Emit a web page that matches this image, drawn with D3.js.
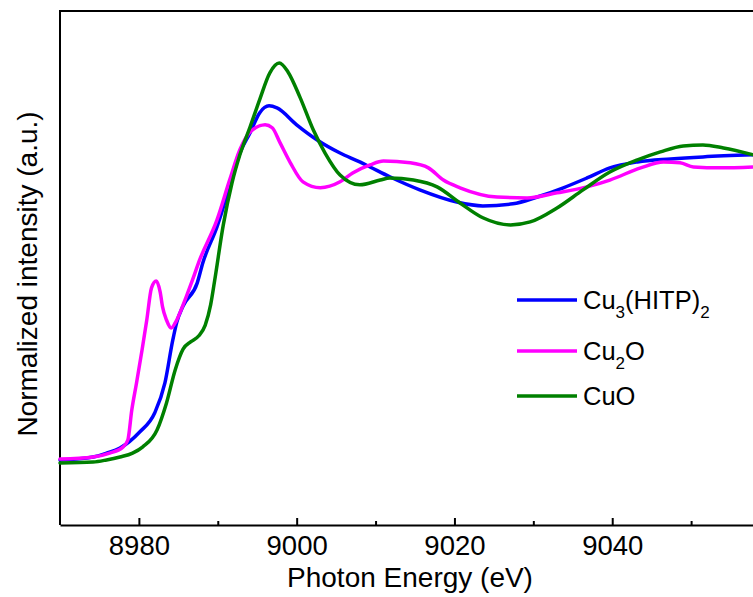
<!DOCTYPE html>
<html lang="en">
<head>
    <meta charset="UTF-8">
    <title>Cu K-edge XANES</title>
    <script src="https://d3js.org/d3.v7.min.js"></script>
    <style>
        body {
            margin: 0;
            background: #fff;
            font-family: "Liberation Sans", Arial, sans-serif;
        }
        svg {
            display: block;
        }
        .frame {
            stroke: #000;
            stroke-width: 2px;
            fill: none;
        }
        .axis path,
        .axis line {
            stroke: #000;
            stroke-width: 2px;
        }
        .axis text {
            font-family: "Liberation Sans", Arial, sans-serif;
            font-size: 27.5px;
            fill: #000;
        }
        .curve {
            fill: none;
            stroke-width: 3.5px;
            stroke-linejoin: round;
            stroke-linecap: round;
        }
        .label {
            font-size: 28px;
            fill: #000;
        }
        .legend text {
            font-size: 25.5px;
            fill: #000;
        }
    </style>
</head>
<body>
    <svg width="753" height="597"></svg>

    <script>
        // Cu3(HITP)2 spectrum (eV, normalized intensity)
        const cu3Energy = [8970, 8974.2, 8975.9, 8977.6, 8980.1, 8982.0, 8983.3, 8984.3, 8984.8, 8985.6,
            8987.4, 8988.1, 8989.9, 8991.5, 8992.8, 8994.1, 8995.3, 8996.5, 8997.5, 9000.0,
            9002.6, 9005.5, 9008.0, 9009.3, 9011.8, 9015.6, 9020.3, 9023.6, 9027.4, 9030.5,
            9033.8, 9036.8, 9039.7, 9043.2, 9047.4, 9051.5, 9057.9];
        const cu3Intensity = [0.007, 0.017, 0.030, 0.047, 0.101, 0.165, 0.266, 0.411, 0.470, 0.525,
            0.603, 0.670, 0.791, 0.926, 1.040, 1.108, 1.175, 1.199, 1.192, 1.135,
            1.084, 1.040, 1.010, 0.993, 0.960, 0.916, 0.875, 0.862, 0.869, 0.892,
            0.923, 0.956, 0.990, 1.010, 1.020, 1.027, 1.034];

        // Cu2O reference
        const cu2oEnergy = [8970, 8974.2, 8976.3, 8978.0, 8978.6, 8979.1, 8979.7, 8980.4, 8981.0, 8981.6,
            8982.2, 8982.7, 8983.0, 8983.5, 8984.1, 8984.6, 8985.2, 8986.0, 8986.8, 8987.7,
            8989.9, 8991.5, 8992.8, 8994.1, 8996.0, 8996.9, 8997.9, 8999.2, 9000.8, 9003.0,
            9005.5, 9007.1, 9009.3, 9011.0, 9014.4, 9016.7, 9018.6, 9020.7, 9025.4, 9029.2,
            9033.0, 9036.8, 9039.7, 9043.6, 9046.5, 9048.6, 9050.3, 9053.7, 9057.9];
        const cu2oIntensity = [0.010, 0.017, 0.030, 0.051, 0.074, 0.175, 0.266, 0.377, 0.478, 0.586,
            0.609, 0.572, 0.522, 0.478, 0.451, 0.468, 0.502, 0.556, 0.613, 0.680,
            0.815, 0.949, 1.051, 1.111, 1.135, 1.125, 1.074, 1.007, 0.943, 0.923,
            0.943, 0.973, 1.000, 1.013, 1.007, 0.990, 0.949, 0.923, 0.892, 0.889,
            0.906, 0.926, 0.949, 0.990, 1.010, 1.007, 0.993, 0.990, 0.993];

        // CuO reference
        const cuoEnergy = [8970, 8974.2, 8975.9, 8977.6, 8979.2, 8980.5, 8982.3, 8983.5, 8984.6, 8985.6,
            8986.6, 8987.6, 8988.4, 8989.1, 8989.6, 8990.7, 8991.8, 8992.8, 8994.1, 8995.3,
            8996.6, 8997.8, 8998.9, 9000.4, 9002.1, 9003.6, 9005.5, 9008.0, 9010.6, 9011.8,
            9014.8, 9017.8, 9020.7, 9023.6, 9027.1, 9029.6, 9033.0, 9036.3, 9039.7, 9043.2,
            9046.1, 9049.0, 9051.5, 9054.1, 9057.9];
        const cuoIntensity = [-0.003, 0.000, 0.007, 0.017, 0.030, 0.051, 0.108, 0.199, 0.310, 0.380,
            0.405, 0.425, 0.460, 0.530, 0.610, 0.798, 0.939, 1.034, 1.128, 1.219,
            1.310, 1.343, 1.313, 1.229, 1.118, 1.040, 0.966, 0.933, 0.949, 0.956,
            0.949, 0.926, 0.872, 0.822, 0.798, 0.808, 0.855, 0.916, 0.976, 1.017,
            1.044, 1.064, 1.067, 1.057, 1.034];

        const majorTicks = [8980, 9000, 9020, 9040];
        const minorTicks = [8990, 9010, 9030, 9050];

        const series = [
            { name: "Cu3(HITP)2", main: "Cu", sub1: "3", mid: "(HITP)", sub2: "2", color: "#0000ff", x: cu3Energy, y: cu3Intensity },
            { name: "Cu2O", main: "Cu", sub1: "2", mid: "O", sub2: "", color: "#ff00ff", x: cu2oEnergy, y: cu2oIntensity },
            { name: "CuO", main: "CuO", sub1: "", mid: "", sub2: "", color: "#008000", x: cuoEnergy, y: cuoIntensity }
        ];

        const plotLeft = 60, plotTop = 11, plotBottom = 525, plotRight = 770;

        const svg = d3.select("svg");

        const x = d3.scaleLinear().domain([8970, 9060]).range([plotLeft, plotRight]);
        const y = d3.scaleLinear().domain([-0.212, 1.518]).range([plotBottom, plotTop]);

        // frame: left and top (right side runs off the picture)
        svg.append("path")
            .attr("class", "frame")
            .attr("d", `M${plotLeft},${plotBottom} L${plotLeft},${plotTop} L${plotRight},${plotTop}`);

        // bottom axis, ticks pointing in
        svg.append("g")
            .attr("class", "axis")
            .attr("transform", `translate(0,${plotBottom})`)
            .call(d3.axisBottom(x).tickValues(majorTicks).tickSizeInner(-7).tickSizeOuter(0)
                .tickPadding(10).tickFormat(d3.format("d")));

        svg.append("g")
            .attr("class", "axis")
            .attr("transform", `translate(0,${plotBottom})`)
            .call(d3.axisBottom(x).tickValues(minorTicks).tickSizeInner(-4).tickSizeOuter(0)
                .tickFormat(""))
            .select(".domain").remove();

        const line = d3.line()
            .x(d => x(d[0]))
            .y(d => y(d[1]))
            .curve(d3.curveMonotoneX);

        svg.append("g")
            .selectAll("path")
            .data(series)
            .join("path")
            .attr("class", "curve")
            .attr("stroke", d => d.color)
            .attr("d", d => line(d.x.map((e, i) => [e, d.y[i]])));

        // axis titles
        svg.append("text")
            .attr("class", "label")
            .attr("x", 410)
            .attr("y", 587)
            .attr("text-anchor", "middle")
            .text("Photon Energy (eV)");

        svg.append("text")
            .attr("class", "label")
            .attr("transform", "translate(37,274) rotate(-90)")
            .attr("text-anchor", "middle")
            .text("Normalized intensity (a.u.)");

        // legend
        const legendY = [300, 351, 396];
        const legend = svg.append("g").attr("class", "legend");

        series.forEach((s, i) => {
            const g = legend.append("g").attr("transform", `translate(0,${legendY[i]})`);
            g.append("line")
                .attr("x1", 517).attr("x2", 577)
                .attr("y1", 0).attr("y2", 0)
                .attr("stroke", s.color)
                .attr("stroke-width", 3.5);
            const t = g.append("text").attr("x", 583).attr("y", 8.5);
            t.append("tspan").text(s.main);
            if (s.sub1) {
                t.append("tspan").attr("dy", 9).attr("font-size", 17).text(s.sub1);
                t.append("tspan").attr("dy", -9).text(s.mid);
            }
            if (s.sub2) {
                t.append("tspan").attr("dy", 9).attr("font-size", 17).text(s.sub2);
            }
        });
    </script>
</body>
</html>
